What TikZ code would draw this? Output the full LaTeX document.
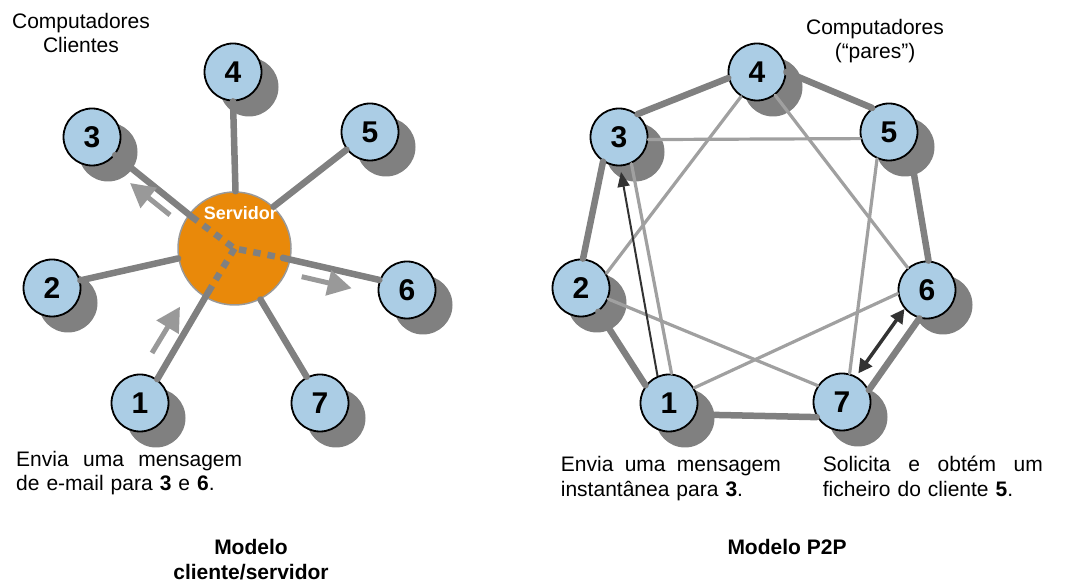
\documentclass[tikz,border=0pt]{standalone}
\usepackage{fontspec}
\setmainfont{Liberation Sans}
\usetikzlibrary{arrows.meta,calc}
\definecolor{nodeblue}{HTML}{ABCDE5}
\definecolor{srvorange}{HTML}{E9890A}
\definecolor{shadowgray}{HTML}{808080}
\definecolor{thickgray}{HTML}{808080}
\definecolor{thingray}{HTML}{A0A0A0}
\definecolor{arrowgray}{HTML}{999999}
\definecolor{darkarrow}{HTML}{333333}
\begin{document}
\begin{tikzpicture}[x=1pt,y=1pt,
  pc/.style={circle, draw=black, line width=1.8pt, fill=nodeblue, minimum size=57pt, inner sep=0pt, font=\fontsize{30}{30}\selectfont\bfseries},
  shd/.style={circle, fill=shadowgray, minimum size=59pt, inner sep=0pt},
  spoke/.style={draw=thickgray, line width=6.5pt, line cap=round},
  thickedge/.style={draw=thickgray, line width=6.5pt, line cap=round},
  thinedge/.style={draw=thingray, line width=3.2pt, line cap=round},
  dotline/.style={draw=thickgray, line width=6.5pt, dash pattern=on 7.5pt off 7pt},
  flowarrow/.style={draw=arrowgray, line width=5pt, -{Triangle[length=24pt,width=25pt]}},
  txt/.style={inner sep=0pt, font=\fontsize{21}{24.5}\selectfont},
]
\useasboundingbox (0,0) rectangle (1068,583);

% ---------------- left: client/server ----------------
\node[shd] (s1) at (156,165) {};
\node[shd] (s2) at (68,280) {};
\node[shd] (s3) at (108,431) {};
\node[shd] (s4) at (249,496) {};
\node[shd] (s5) at (386,436) {};
\node[shd] (s6) at (423,278) {};
\node[shd] (s7) at (336,165) {};

\node[pc] (n1) at (140,180) {1};
\node[pc] (n2) at (52,295) {2};
\node[pc] (n3) at (92,446) {3};
\node[pc] (n4) at (233,511) {4};
\node[pc] (n5) at (370,451) {5};
\node[pc] (n6) at (407,293) {6};
\node[pc] (n7) at (320,180) {7};

\node[circle, draw=arrowgray, line width=1.5pt, fill=srvorange, minimum size=113pt, inner sep=0pt] (srv) at (234.5,334.5) {};
\node[inner sep=0pt, anchor=base, text=white, font=\fontsize{18}{18}\selectfont\bfseries] (srvlabel) at (240.3,363) {Servidor};

\coordinate (d3) at ($(srv.center)+(143.4:53.4)$);
\coordinate (d6) at ($(srv.center)+(-11:49.4)$);
\coordinate (d1) at ($(srv.center)+(-121:51)$);

\draw[spoke] (n3.-38) -- (d3);
\draw[spoke] (n4.-90) -- (srv.89.5);
\draw[spoke] (n5.217) -- (srv.47);
\draw[spoke] (n2.15) -- (srv.190);
\draw[spoke] (n6.160) -- (d6);
\draw[spoke] (n1.54.5) -- (d1);
\draw[spoke] (n7.117.5) -- (srv.-63);

\draw[dotline] (d3) -- (srv.center) -- (d6);
\draw[dotline] (d1) -- (srv.center);

\coordinate (a3s) at (170,368);
\coordinate (a3e) at (130,400);
\coordinate (a6s) at (301.7,306.3);
\coordinate (a6e) at (351.7,294.7);
\coordinate (a1s) at (152,230);
\coordinate (a1e) at (180,276.3);
\draw[flowarrow] (a3s) -- (a3e);
\draw[flowarrow] (a6s) -- (a6e);
\draw[flowarrow] (a1s) -- (a1e);

\node[txt, font=\fontsize{21}{24}\selectfont, text width=170pt, align=center, anchor=base] (lt) at (81,554.7) {Computadores\\Clientes};
\node[txt, text width=230pt, align=left, anchor=base west] (lb) at (16,116.5) {\hbox to 226pt{Envia\hfill uma\hfill mensagem}\\de e-mail para \textbf{3} e \textbf{6}.};
\node[txt, font=\fontsize{21}{25}\selectfont\bfseries, text width=220pt, align=center, anchor=base] (lm) at (251,28) {Modelo\\cliente/servidor};

% ---------------- right: P2P ----------------
\node[shd] (q1) at (685,165) {};
\node[shd] (q2) at (597,280) {};
\node[shd] (q3) at (635,431) {};
\node[shd] (q4) at (773,496) {};
\node[shd] (q5) at (905,436) {};
\node[shd] (q6) at (943,278) {};
\node[shd] (q7) at (858,166) {};

\node[pc] (p1) at (669,180) {1};
\node[pc] (p2) at (581,295) {2};
\node[pc] (p3) at (619,446) {3};
\node[pc] (p4) at (757,511) {4};
\node[pc] (p5) at (889,451) {5};
\node[pc] (p6) at (927,293) {6};
\node[pc] (p7) at (842,181) {7};

% thin links
\draw[thinedge] (p3.-5.5) -- (p5.193.8);
\draw[thinedge] (p4.237) -- (p2.30.4);
\draw[thinedge] (p4.-52) -- (p6.131);
\draw[thinedge] (p3.-65) -- (p1.85);
\draw[thinedge] (p5.-114) -- (p7.75.7);
\draw[thinedge] (p2.-22.5) -- (p7.146);
\draw[thinedge] (p6.187) -- (p1.31);

% thick ring
\draw[thickedge] (p3.51) -- (p4.192);
\draw[thickedge] (p4.0) -- (p5.125.5);
\draw[thickedge] (q5.-72) -- (p6.87.5);
\draw[thickedge] (p6.255) -- (p7.24.5);
\draw[thickedge] (p7.211.8) -- (q1.6.4);
\draw[thickedge] (p1.143.8) -- (p2.-54.5);
\draw[thickedge] (p2.86.6) -- (p3.237.7);

% message arrows
\draw[draw=darkarrow, line width=2pt, -{Triangle[length=15pt,width=12pt]}, shorten >=5.5pt] (p1.113.6) -- (p3.-88);
\draw[draw=darkarrow, line width=3.5pt, {Triangle[length=14pt,width=14pt]}-{Triangle[length=14pt,width=14pt]}, shorten <=3.5pt] (p7.61.7) -- (p6.220);

\node[txt, font=\fontsize{21}{24}\selectfont, text width=170pt, align=center, anchor=base] (rt) at (875,548.7) {Computadores\\(“pares”)};
\node[txt, font=\fontsize{21}{25}\selectfont, text width=224pt, align=left, anchor=base west] (rb1) at (560.7,111.3) {\hbox to 220pt{Envia\hfill uma\hfill mensagem}\\instantânea para \textbf{3}.};
\node[txt, font=\fontsize{21}{25}\selectfont, text width=224pt, align=left, anchor=base west] (rb2) at (822.7,111.3) {\hbox to 220pt{Solicita\hfill e\hfill obtém\hfill um}\\ficheiro do cliente \textbf{5}.};
\node[txt, font=\fontsize{21}{25}\selectfont\bfseries, anchor=base] (rm) at (787,28) {Modelo P2P};
\end{tikzpicture}
\end{document}
